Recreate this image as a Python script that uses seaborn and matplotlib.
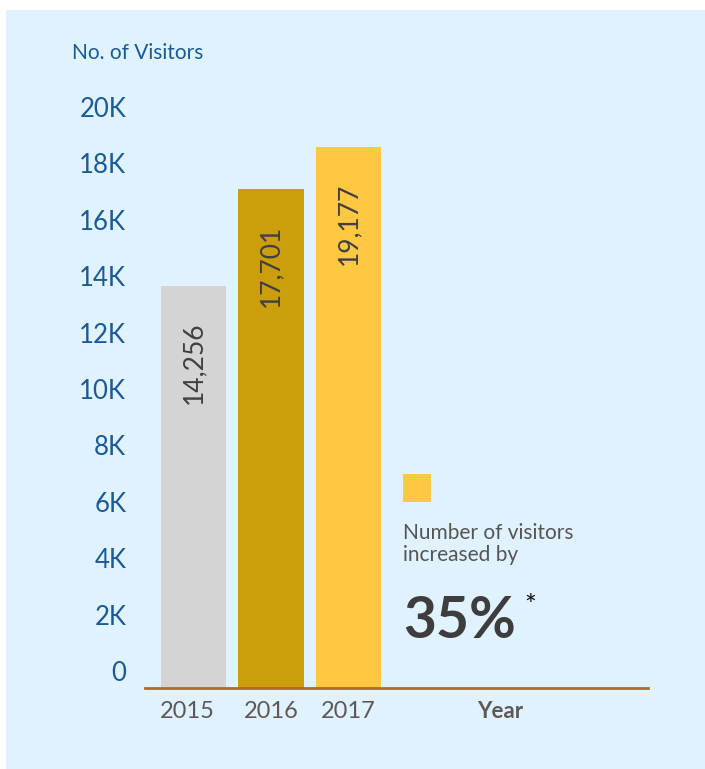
import matplotlib
matplotlib.use("Agg")
import matplotlib.pyplot as plt
import matplotlib.transforms as mtransforms
from matplotlib.patches import Rectangle
import seaborn as sns
import pandas as pd

# ---- data ----
years = ["2015", "2016", "2017"]
visitors = [14256, 17701, 19177]
value_labels = ["14,256", "17,701", "19,177"]
bar_colors = ["#D3D4D3", "#CC9E0B", "#FFC843"]
y_ticks = [0, 2000, 4000, 6000, 8000, 10000, 12000, 14000, 16000, 18000, 20000]
y_tick_labels = ["0", "2K", "4K", "6K", "8K", "10K", "12K", "14K", "16K", "18K", "20K"]
y_title = "No. of Visitors"
x_title = "Year"
note_text = "Number of visitors\nincreased by"
note_value = "35%"

sns.set_theme(style="white")
plt.rcParams["font.family"] = ["Lato", "DejaVu Sans"]

W, H = 705, 769
fig = plt.figure(figsize=(W / 100, H / 100), dpi=100, facecolor="white")

def fx(x):
    return x / W

def fy(y):
    return 1 - y / H

BG = "#E0F2FE"
fig.patches.append(Rectangle((fx(6), 0), 1 - fx(6), fy(10), transform=fig.transFigure,
                             facecolor=BG, edgecolor="none", zorder=-10))

K = 0.0282  # pixels per visitor
ax = fig.add_axes([fx(145), fy(688), (648 - 145) / W, 21000 * K / H])
ax.set_facecolor("none")
ax.set_zorder(1)

df = pd.DataFrame({"year": years, "visitors": visitors})
sns.barplot(data=df, x="year", y="visitors", hue="year", order=years, hue_order=years,
            palette=bar_colors, width=0.84, saturation=1, legend=False, linewidth=0,
            ax=ax)

ax.set_ylim(0, 21000)
ax.set_xlim(-0.626, 5.865)
for s in ["left", "right", "top"]:
    ax.spines[s].set_visible(False)
ax.spines["bottom"].set_color("#B06A2A")
ax.spines["bottom"].set_linewidth(2)
ax.spines["bottom"].set_zorder(5)

ax.set_xlabel("")
ax.set_ylabel("")
ax.set_yticks(y_ticks, y_tick_labels)
ax.tick_params(axis="y", length=0, pad=13.5, labelsize=18.5, labelcolor="#1A5A96")
ax.tick_params(axis="x", length=0, pad=9, labelsize=17, labelcolor="#5F5955")
off = mtransforms.ScaledTranslation(0, 17 / 100, fig.dpi_scale_trans)
for lbl in ax.get_yticklabels():
    lbl.set_transform(lbl.get_transform() + off)
xoffs = [-6, 0, 0]
for lbl, dx in zip(ax.get_xticklabels(), xoffs):
    lbl.set_transform(lbl.get_transform() +
                      mtransforms.ScaledTranslation(dx / 100, 0, fig.dpi_scale_trans))

for i, (v, t) in enumerate(zip(visitors, value_labels)):
    ax.annotate(t, xy=(i, v), xytext=(0, -36), textcoords="offset pixels",
                rotation=90, ha="center", va="top", fontsize=19, color="#404040")

# titles and notes
fig.text(fx(72), fy(53), y_title, ha="left", va="center", fontsize=15, color="#1A5A96")
fig.text(fx(500), fy(711), x_title, ha="center", va="center", fontsize=16,
         fontweight="bold", color="#5F5955")

fig.patches.append(Rectangle((fx(403), fy(502)), (431 - 403) / W, 28 / H,
                             transform=fig.transFigure, facecolor=bar_colors[2],
                             edgecolor="none", zorder=2))
fig.text(fx(403), fy(561), note_text, ha="left", va="baseline", fontsize=15,
         color="#555555", linespacing=1.15)
fig.text(fx(403), fy(638), note_value, ha="left", va="baseline", fontsize=41,
         fontweight="bold", color="#3D3D3D")
fig.text(fx(530), fy(607), "*", ha="center", va="center", fontsize=20, color="#111111")

fig.savefig("out.png", dpi=100, facecolor="white")
